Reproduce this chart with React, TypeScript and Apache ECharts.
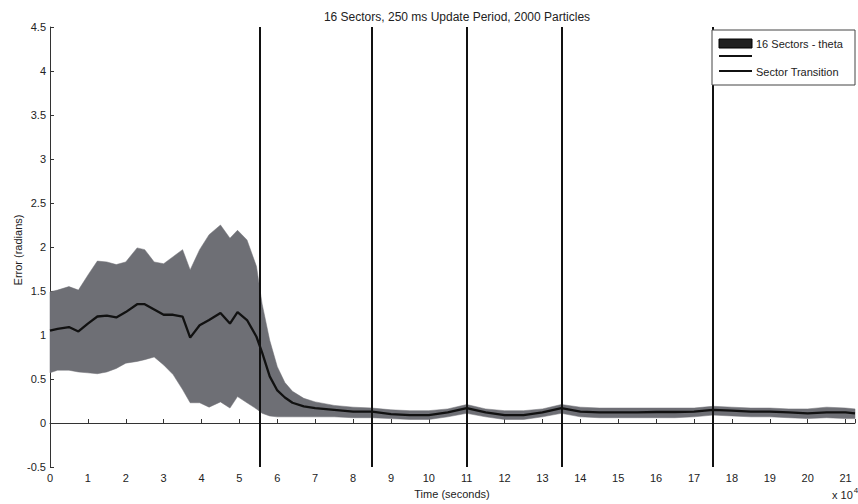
import React, { useEffect, useRef } from "react";
import * as echarts from "echarts";

// time in units of 10^4 seconds
const timeX = [0, 0.2, 0.5, 0.75, 1.0, 1.25, 1.5, 1.75, 2.0, 2.3, 2.5, 2.75, 3.0, 3.25, 3.5, 3.7, 3.95, 4.2, 4.5, 4.75, 4.95, 5.2, 5.45, 5.6, 5.8, 6.0, 6.2, 6.4, 6.7, 7.0, 7.5, 8.0, 8.5, 9.0, 9.5, 10.0, 10.5, 11.0, 11.5, 12.0, 12.5, 13.0, 13.5, 14.0, 14.5, 15.0, 15.5, 16.0, 16.5, 17.0, 17.5, 18.0, 18.5, 19.0, 19.5, 20.0, 20.5, 21.0, 21.25];
const meanErr = [1.05, 1.07, 1.09, 1.04, 1.13, 1.21, 1.22, 1.2, 1.26, 1.35, 1.35, 1.29, 1.23, 1.23, 1.21, 0.97, 1.11, 1.17, 1.25, 1.13, 1.26, 1.17, 0.98, 0.8, 0.53, 0.37, 0.29, 0.23, 0.19, 0.17, 0.15, 0.13, 0.13, 0.1, 0.09, 0.09, 0.12, 0.17, 0.12, 0.09, 0.09, 0.12, 0.17, 0.13, 0.12, 0.12, 0.12, 0.125, 0.125, 0.13, 0.15, 0.14, 0.13, 0.13, 0.12, 0.11, 0.12, 0.12, 0.11];
const upperErr = [1.49, 1.51, 1.55, 1.51, 1.68, 1.84, 1.83, 1.8, 1.83, 1.99, 1.97, 1.83, 1.81, 1.89, 1.97, 1.74, 1.97, 2.14, 2.25, 2.1, 2.19, 2.08, 1.78, 1.35, 0.94, 0.64, 0.46, 0.36, 0.28, 0.24, 0.2, 0.18, 0.17, 0.15, 0.14, 0.14, 0.16, 0.21, 0.16, 0.14, 0.14, 0.16, 0.21, 0.18, 0.17, 0.17, 0.17, 0.17, 0.17, 0.17, 0.19, 0.18, 0.17, 0.17, 0.16, 0.16, 0.18, 0.17, 0.16];
const lowerErr = [0.57, 0.6, 0.6, 0.58, 0.57, 0.56, 0.58, 0.62, 0.68, 0.7, 0.72, 0.75, 0.66, 0.55, 0.38, 0.23, 0.23, 0.18, 0.24, 0.17, 0.3, 0.23, 0.16, 0.11, 0.08, 0.07, 0.07, 0.07, 0.07, 0.07, 0.07, 0.06, 0.06, 0.05, 0.04, 0.04, 0.07, 0.11, 0.07, 0.04, 0.04, 0.07, 0.11, 0.07, 0.06, 0.06, 0.06, 0.06, 0.06, 0.07, 0.09, 0.08, 0.07, 0.07, 0.06, 0.05, 0.06, 0.05, 0.05];
const transitionTimes = [5.55, 8.5, 11.0, 13.5, 17.5];

const titleText = "16 Sectors, 250 ms Update Period, 2000 Particles";
const xAxisTitle = "Time (seconds)";
const yAxisTitle = "Error (radians)";
const legendBand = "16 Sectors - theta";
const legendTransition = "Sector Transition";

const FONT = "'Liberation Sans', Arial, sans-serif";

export default function App() {
  const ref = useRef<HTMLDivElement>(null);
  useEffect(() => {
    if (!ref.current) return;
    const chart = echarts.init(ref.current, null, { renderer: "svg" });
    const bandData = timeX.map((t, i) => [t, lowerErr[i], upperErr[i]]);
    const meanData = timeX.map((t, i) => [t, meanErr[i]]);
    chart.setOption({
      animation: false,
      backgroundColor: "#ffffff",
      grid: { left: 50, right: 3, top: 27, bottom: 37 },
      xAxis: {
        type: "value",
        min: 0,
        max: 21.25,
        interval: 1,
        axisLine: { show: true, lineStyle: { color: "#333", width: 1 } },
        axisTick: { show: true, inside: true, length: 4, lineStyle: { color: "#333" } },
        axisLabel: {
          color: "#222",
          fontFamily: FONT,
          fontSize: 11,
          margin: 5,
          formatter: (v: number) => (Number.isInteger(v) ? String(v) : ""),
        },
        splitLine: { show: false },
      },
      yAxis: {
        type: "value",
        min: -0.5,
        max: 4.5,
        interval: 0.5,
        axisLine: { show: true, lineStyle: { color: "#333", width: 1 } },
        axisTick: { show: true, inside: true, length: 4, lineStyle: { color: "#333" } },
        axisLabel: { color: "#222", fontFamily: FONT, fontSize: 11, margin: 4 },
        splitLine: { show: false },
      },
      series: [
        {
          type: "custom",
          data: bandData,
          encode: { x: 0, y: [1, 2] },
          silent: true,
          z: 1,
          renderItem: (params: any, api: any) => {
            if (params.dataIndex !== 0) return null;
            const pts: number[][] = [];
            for (let i = 0; i < bandData.length; i++) pts.push(api.coord([bandData[i][0], bandData[i][2]]));
            for (let i = bandData.length - 1; i >= 0; i--) pts.push(api.coord([bandData[i][0], bandData[i][1]]));
            return {
              type: "polygon",
              shape: { points: pts },
              style: { fill: "#6e6f75", stroke: "#6e6f75", lineWidth: 0.5 },
            };
          },
        },
        {
          type: "line",
          data: meanData,
          symbol: "none",
          smooth: false,
          lineStyle: { color: "#111", width: 2.3 },
          z: 3,
          markLine: {
            silent: true,
            symbol: "none",
            label: { show: false },
            lineStyle: { color: "#111", width: 2, type: "solid" },
            data: transitionTimes.map((t) => ({ xAxis: t })),
            z: 4,
          },
        },
      ],
      graphic: [
        {
          type: "text",
          x: 457,
          y: 17,
          style: { text: titleText, fill: "#222", font: `12px ${FONT}`, align: "center", verticalAlign: "middle" },
        },
        {
          type: "text",
          x: 452,
          y: 494,
          style: { text: xAxisTitle, fill: "#222", font: `11px ${FONT}`, align: "center", verticalAlign: "middle" },
        },
        {
          type: "text",
          x: 18,
          y: 250,
          rotation: Math.PI / 2,
          style: { text: yAxisTitle, fill: "#222", font: `11px ${FONT}`, align: "center", verticalAlign: "middle" },
        },
        {
          type: "text",
          x: 832,
          y: 495,
          style: {
            text: "{a|x 10}{b|4}",
            fill: "#222",
            verticalAlign: "middle",
            rich: {
              a: { fontSize: 11, fontFamily: FONT, fill: "#222" },
              b: { fontSize: 8, fontFamily: FONT, fill: "#222", verticalAlign: "top", padding: [0, 0, 10, 1] },
            },
          },
        },
        {
          type: "rect",
          shape: { x: 712, y: 30, width: 143, height: 55 },
          style: { fill: "#ffffff", stroke: "#444", lineWidth: 1 },
          z: 100,
        },
        {
          type: "rect",
          shape: { x: 719, y: 39, width: 33, height: 9 },
          style: { fill: "#222", stroke: "#000", lineWidth: 1 },
          z: 101,
        },
        {
          type: "text",
          x: 756,
          y: 44,
          style: { text: legendBand, fill: "#222", font: `11px ${FONT}`, verticalAlign: "middle" },
          z: 101,
        },
        {
          type: "line",
          shape: { x1: 719, y1: 56, x2: 752, y2: 56 },
          style: { stroke: "#111", lineWidth: 2 },
          z: 101,
        },
        {
          type: "line",
          shape: { x1: 719, y1: 71, x2: 752, y2: 71 },
          style: { stroke: "#111", lineWidth: 2 },
          z: 101,
        },
        {
          type: "text",
          x: 756,
          y: 72,
          style: { text: legendTransition, fill: "#222", font: `11px ${FONT}`, verticalAlign: "middle" },
          z: 101,
        },
      ],
    });
    return () => chart.dispose();
  }, []);
  return <div ref={ref} style={{ width: 858, height: 504, position: "fixed", left: 0, top: 0 }} />;
}
